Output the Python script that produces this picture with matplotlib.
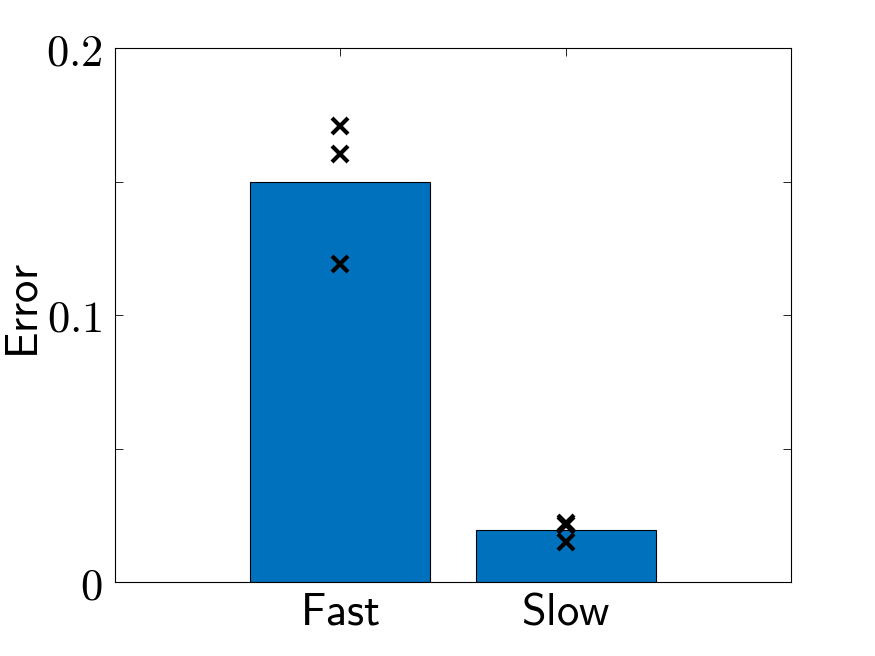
import matplotlib
matplotlib.use("Agg")
import matplotlib.pyplot as plt

plt.rcParams['mathtext.fontset'] = 'cm'

categories = ["Fast", "Slow"]
bar_values = [0.150, 0.0195]
fast_points = [0.1708, 0.1603, 0.1191]
slow_points = [0.0221, 0.0212, 0.0148]
yticks = [0, 0.05, 0.1, 0.15, 0.2]
ytick_labels = ["0", "", "0.1", "", "0.2"]

fig = plt.figure(figsize=(8.75, 6.56), dpi=100)
ax = fig.add_axes([115/875, 1-582/656, (791-115)/875, (582-48)/656])

xpos = [1, 2]
ax.bar(xpos, bar_values, width=0.8, color="#0072BD", edgecolor="black", linewidth=0.8, zorder=2)
for x, pts in zip(xpos, [fast_points, slow_points]):
    ax.plot([x]*len(pts), pts, linestyle="none", marker="x", color="black",
            markersize=11, markeredgewidth=3, zorder=3)

ax.set_xlim(0, 3)
ax.set_ylim(0, 0.2)
ax.set_xticks(xpos)
ax.set_xticklabels([r"$\mathsf{%s}$" % c for c in categories], fontsize=32)
ax.set_yticks(yticks)
ax.set_yticklabels([r"$%s$" % t if t else "" for t in ytick_labels], fontsize=32)
ax.tick_params(axis="x", direction="in", top=True, length=6, width=0.6, pad=6)
ax.tick_params(axis="y", direction="in", right=True, length=6, width=0.6, pad=9)
for s in ax.spines.values():
    s.set_linewidth(0.8)
ax.set_ylabel(r"$\mathsf{Error}$", fontsize=32)
ax.yaxis.set_label_coords(-0.101, 0.507)

fig.savefig("out.png", dpi=100)
